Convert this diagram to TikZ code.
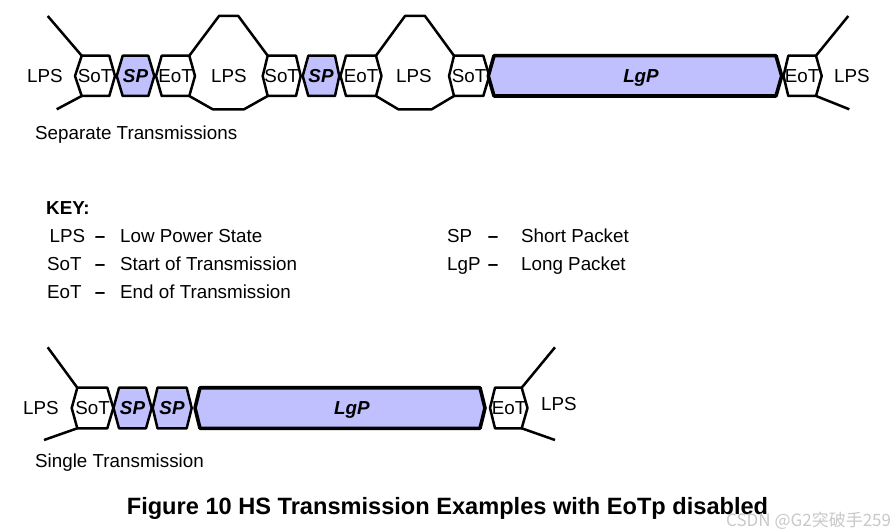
\documentclass[tikz,border=0pt]{standalone}
\usepackage{fontspec}
\setmainfont{Liberation Sans}
\newfontfamily\cjkfont{Noto Sans CJK SC}
\definecolor{pktfill}{RGB}{192,192,255}
\definecolor{wmgray}{RGB}{200,200,200}
\newcommand\hexshape[8]{% name, xl mid, xl top, xr top, xr mid, fill, style, label-x
  \filldraw[#7, fill=#6] (#2,\ymid) -- (#3,\ytop) -- (#4,\ytop) -- (#5,\ymid) -- (#4,\ybot) -- (#3,\ybot) -- cycle;
  \coordinate (#1) at (#8,\ymid);
}
\begin{document}
\begin{tikzpicture}[x=1pt,y=-1pt, line join=round,
  wave/.style={line width=2.5pt, draw=black},
  thick wave/.style={line width=3.6pt, draw=black},
  lbl/.style={font=\fontsize{18.8}{20}\selectfont, inner sep=0pt, anchor=base, yshift=-6.7pt},
  pkt/.style={font=\fontsize{18.8}{20}\selectfont\bfseries\itshape, inner sep=0pt, anchor=base, yshift=-6.7pt},
  keytxt/.style={font=\fontsize{18.8}{20}\selectfont, inner sep=0pt, anchor=base west, yshift=-6.7pt},
  keydash/.style={font=\fontsize{18.8}{20}\selectfont\bfseries, inner sep=0pt, anchor=base, yshift=-6.7pt},
  captxt/.style={font=\fontsize{23.6}{26}\selectfont\bfseries, inner sep=0pt, anchor=base}]
\useasboundingbox (0,0) rectangle (892,532);

% ---------------- Row 1: separate transmissions ----------------
\def\ytop{55.7}\def\ybot{96}\def\ymid{76}
\draw[wave] (47.7,16) -- (81.7,55.7);
\draw[wave] (56.7,109.3) -- (81.7,96);
\hexshape{sot1}{75}{81.7}{109.3}{115}{white}{wave}{95}
\hexshape{sp1}{116.7}{122.7}{148.3}{154.3}{pktfill}{wave}{135.5}
\hexshape{eot1}{156}{161.7}{189.3}{195}{white}{wave}{175.5}
\draw[wave] (189.3,55.7) -- (219,16) -- (238.3,16) -- (267.7,55.7);
\draw[wave] (189.3,96) -- (212.7,109.3) -- (244,109.3) -- (267.7,96);
\hexshape{sot2}{262.7}{267.7}{296}{300.7}{white}{wave}{281.7}
\hexshape{sp2}{302.7}{308.3}{335}{339.3}{pktfill}{wave}{321}
\hexshape{eot2}{340.5}{346}{376}{381.5}{white}{wave}{361}
\draw[wave] (376,55.7) -- (405,16) -- (425,16) -- (454,55.7);
\draw[wave] (376,96) -- (398.3,109.3) -- (431.7,109.3) -- (454,96);
\hexshape{sot3}{449}{454}{483.3}{489.3}{white}{wave}{469}
\hexshape{lgp1}{488.3}{494}{776}{781.7}{pktfill}{thick wave}{641}
\hexshape{eot3}{783.5}{788.3}{816}{821.7}{white}{wave}{802}
\draw[wave] (816,55.7) -- (848.3,16);
\draw[wave] (816,96) -- (849.3,109.3);

\node[lbl] (lpsA) at (45,76) {LPS};
\node[lbl] at (sot1) {SoT};
\node[pkt] at (sp1) {SP};
\node[lbl] at (eot1) {EoT};
\node[lbl] (lpsB) at (229,76) {LPS};
\node[lbl] at (sot2) {SoT};
\node[pkt] at (sp2) {SP};
\node[lbl] at (eot2) {EoT};
\node[lbl] (lpsC) at (414,76) {LPS};
\node[lbl] at (sot3) {SoT};
\node[pkt] at (lgp1) {LgP};
\node[lbl] at (eot3) {EoT};
\node[lbl] (lpsD) at (852,76) {LPS};
\node[keytxt] (sep) at (35,133) {Separate Transmissions};

% ---------------- Key ----------------
\node[keytxt, font=\fontsize{18.8}{20}\selectfont\bfseries] (key) at (46,208) {KEY:};
\node[keytxt] (k1a) at (49.5,236) {LPS};
\node[keydash] (k1b) at (100,236) {--};
\node[keytxt] (k1c) at (120,236) {Low Power State};
\node[keytxt] (k2a) at (47,264) {SoT};
\node[keydash] (k2b) at (100,264) {--};
\node[keytxt] (k2c) at (120,264) {Start of Transmission};
\node[keytxt] (k3a) at (47,292) {EoT};
\node[keydash] (k3b) at (100,292) {--};
\node[keytxt] (k3c) at (120,292) {End of Transmission};
\node[keytxt] (k4a) at (447,236) {SP};
\node[keydash] (k4b) at (493,236) {--};
\node[keytxt] (k4c) at (521,236) {Short Packet};
\node[keytxt] (k5a) at (447,264) {LgP};
\node[keydash] (k5b) at (493,264) {--};
\node[keytxt] (k5c) at (521,264) {Long Packet};

% ---------------- Row 2: single transmission ----------------
\def\ytop{387.7}\def\ybot{428.3}\def\ymid{408}
\draw[wave] (47.7,347.3) -- (77.3,387.7);
\draw[wave] (44,440) -- (77.3,428.3);
\hexshape{sot4}{71.7}{77.3}{107.3}{113.3}{white}{wave}{92.5}
\hexshape{sp3}{113.5}{119}{146}{151.7}{pktfill}{wave}{132.5}
\hexshape{sp4}{152.7}{157.5}{186.7}{191.7}{pktfill}{wave}{172}
\hexshape{lgp2}{195}{200}{480}{485}{pktfill}{thick wave}{352}
\hexshape{eot4}{490}{495}{521.7}{527.5}{white}{wave}{509}
\draw[wave] (521.7,387.7) -- (555,347.3);
\draw[wave] (521.7,428.3) -- (555,440);

\node[lbl] (lpsE) at (41,408) {LPS};
\node[lbl] at (sot4) {SoT};
\node[pkt] at (sp3) {SP};
\node[pkt] at (sp4) {SP};
\node[pkt] at (lgp2) {LgP};
\node[lbl] at (eot4) {EoT};
\node[lbl] (lpsF) at (559,404) {LPS};
\node[keytxt] (single) at (35,461) {Single Transmission};

% ---------------- Caption and watermark ----------------
\node[captxt] (caption) at (447.5,514.7) {Figure 10 HS Transmission Examples with EoTp disabled};
\node[inner sep=0pt, anchor=base west, text=wmgray, font=\fontsize{17}{19}\cjkfont] (wm) at (726,526) {CSDN @G2突破手259};
\end{tikzpicture}
\end{document}
